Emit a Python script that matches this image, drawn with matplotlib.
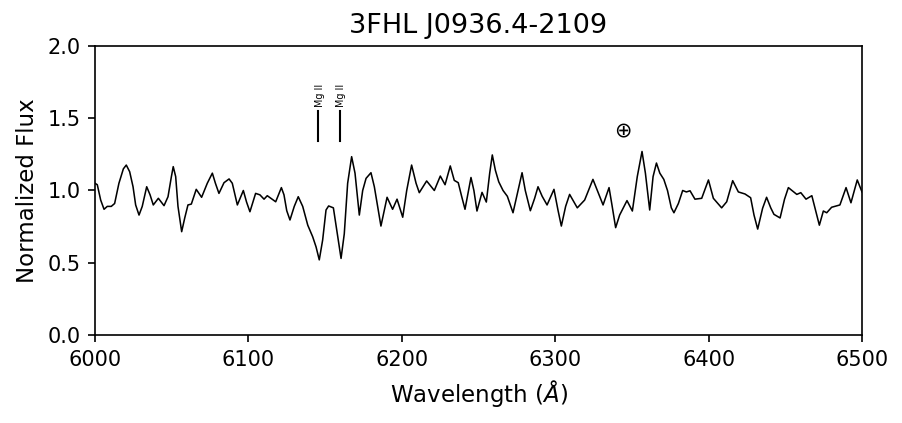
import numpy as np
import matplotlib
matplotlib.use('Agg')
import matplotlib.pyplot as plt

# spectrum (wavelength in Angstrom, normalized flux)
wavelength = [
    6000.0, 6001.5, 6003.7, 6005.9, 6008.0, 6010.6, 6012.8, 6015.6, 6018.5, 6020.4,
    6022.6, 6024.8, 6026.5, 6028.7, 6030.8, 6033.7, 6035.9, 6038.0, 6041.3, 6045.0,
    6047.6, 6049.8, 6051.0, 6052.6, 6054.1, 6056.5, 6058.5, 6060.6, 6062.8, 6066.0,
    6069.5, 6073.2, 6076.5, 6078.5, 6080.8, 6084.1, 6087.4, 6089.5, 6092.8, 6096.7,
    6098.8, 6101.0, 6104.7, 6107.5, 6110.2, 6112.3, 6117.8, 6121.5, 6123.2, 6125.0,
    6127.1, 6129.9, 6132.5, 6135.4, 6138.7, 6141.9, 6144.1, 6146.2, 6148.4, 6150.6,
    6152.3, 6155.4, 6157.6, 6160.4, 6162.5, 6164.7, 6167.3, 6169.5, 6172.3, 6174.5,
    6176.7, 6179.9, 6182.1, 6186.4, 6190.4, 6194.0, 6196.9, 6200.6, 6203.2, 6206.4,
    6209.3, 6211.4, 6216.2, 6221.2, 6225.1, 6228.2, 6231.6, 6234.2, 6236.8, 6239.0,
    6241.2, 6245.1, 6247.0, 6249.0, 6252.3, 6255.1, 6257.3, 6259.0, 6261.0, 6263.2,
    6266.0, 6268.8, 6272.5, 6275.8, 6278.4, 6280.5, 6283.8, 6286.6, 6288.8, 6291.5,
    6294.7, 6299.2, 6301.8, 6304.0, 6306.8, 6309.4, 6314.4, 6319.2, 6324.6, 6327.5,
    6331.2, 6335.1, 6337.0, 6339.4, 6342.0, 6343.7, 6346.8, 6350.3, 6353.5, 6356.6,
    6358.8, 6361.6, 6363.8, 6366.0, 6368.2, 6370.8, 6373.2, 6375.7, 6377.4, 6380.3,
    6383.1, 6385.5, 6387.9, 6391.1, 6395.5, 6399.9, 6403.1, 6408.5, 6411.8, 6415.7,
    6419.4, 6423.7, 6427.4, 6429.6, 6432.0, 6435.2, 6437.8, 6440.5, 6442.6, 6446.6,
    6449.5, 6452.0, 6457.5, 6460.1, 6463.5, 6467.3, 6469.8, 6472.2, 6474.8, 6477.0,
    6480.2, 6485.6, 6489.6, 6492.8, 6496.9, 6500.0,
]
flux = [
    1.05, 1.04, 0.934, 0.87, 0.89, 0.89, 0.91, 1.05, 1.15, 1.176,
    1.13, 1.026, 0.90, 0.83, 0.89, 1.026, 0.97, 0.90, 0.946, 0.895,
    0.957, 1.096, 1.165, 1.096, 0.89, 0.715, 0.81, 0.90, 0.906, 1.008,
    0.953, 1.05, 1.12, 1.05, 0.98, 1.054, 1.08, 1.05, 0.90, 1.00,
    0.92, 0.853, 0.98, 0.97, 0.94, 0.964, 0.922, 1.02, 0.97, 0.86,
    0.796, 0.89, 0.957, 0.89, 0.76, 0.68, 0.61, 0.52, 0.657, 0.865,
    0.893, 0.88, 0.727, 0.53, 0.70, 1.05, 1.234, 1.12, 0.83, 1.00,
    1.084, 1.123, 1.026, 0.754, 0.953, 0.87, 0.94, 0.815, 1.00, 1.176,
    1.05, 0.985, 1.066, 1.00, 1.10, 1.04, 1.17, 1.07, 1.054, 0.96,
    0.87, 1.09, 1.00, 0.858, 0.987, 0.92, 1.12, 1.246, 1.14, 1.06,
    1.00, 0.96, 0.846, 1.00, 1.123, 1.00, 0.86, 0.946, 1.026, 0.96,
    0.90, 1.008, 0.865, 0.754, 0.89, 0.973, 0.88, 0.934, 1.077, 1.00,
    0.90, 1.02, 0.90, 0.743, 0.83, 0.865, 0.93, 0.858, 1.096, 1.27,
    1.12, 0.865, 1.096, 1.19, 1.12, 1.077, 1.00, 0.88, 0.846, 0.91,
    1.00, 0.99, 0.998, 0.94, 0.946, 1.073, 0.946, 0.88, 0.922, 1.068,
    0.99, 0.976, 0.95, 0.83, 0.733, 0.877, 0.953, 0.88, 0.835, 0.81,
    0.94, 1.02, 0.973, 0.985, 0.94, 0.964, 0.86, 0.76, 0.858, 0.846,
    0.884, 0.90, 1.02, 0.915, 1.073, 0.99,
]

# absorption line markers
line_names = ['Mg II', 'Mg II']
line_wl = [6145.6, 6159.5]
telluric_wl = 6344.2
telluric_flux = 1.405

fig = plt.figure(figsize=(6.02, 2.82), dpi=150)
ax = fig.add_axes([0.1052, 0.208, 0.8494, 0.6833])

ax.plot(wavelength, flux, color='k', lw=0.75, solid_joinstyle='round')

for name, wl in zip(line_names, line_wl):
    ax.plot([wl, wl], [1.342, 1.552], color='k', lw=1.0)
    ax.text(wl + 1.0, 1.58, name, rotation=90, fontsize=4.6,
            ha='center', va='bottom')

ax.text(telluric_wl, telluric_flux, r'$\oplus$', fontsize=10,
        ha='center', va='center')

ax.set_xlim(6000, 6500)
ax.set_ylim(0, 2.0)
ax.set_xticks([6000, 6100, 6200, 6300, 6400, 6500])
ax.set_yticks([0.0, 0.5, 1.0, 1.5, 2.0])
ax.set_xlabel(r'Wavelength ($\AA$)', fontsize=11)
ax.set_ylabel('Normalized Flux', fontsize=11)
ax.set_title('3FHL J0936.4-2109', fontsize=13)

fig.savefig('out.png', dpi=150)
